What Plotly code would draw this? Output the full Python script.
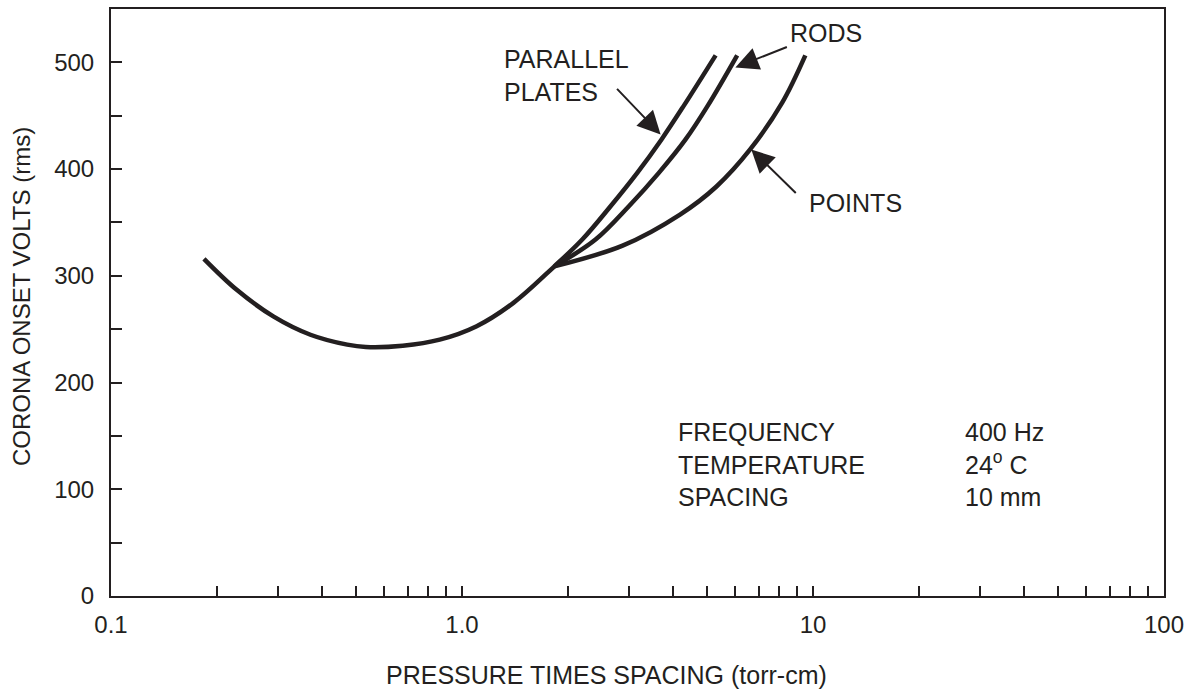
import math
import plotly.graph_objects as go

# ---- data ----
shared_x = [0.184, 0.2277, 0.290, 0.370, 0.471, 0.532, 0.678, 0.864, 1.101, 1.404, 1.833]
shared_y = [315.9, 287.1, 262.0, 244.8, 235.5, 233.3, 234.5, 240.2, 252.8, 274.9, 308.9]

plates_x = [1.833, 2.201, 2.650, 3.157, 3.702, 4.277, 5.28]
plates_y = [308.9, 334.0, 365.2, 396.5, 427.8, 459.0, 506.6]

rods_x = [1.833, 2.401, 2.988, 3.637, 4.335, 5.005, 6.081]
rods_y = [308.9, 334.0, 365.2, 396.5, 427.8, 459.0, 506.6]

points_x = [1.833, 2.868, 4.180, 5.309, 6.62, 8.17, 9.51]
points_y = [308.9, 328.3, 357.4, 383.7, 418.4, 462.3, 506.6]

x_tick_labels = {0.1: "0.1", 1: "1.0", 10: "10", 100: "100"}
y_tick_labels = {0: "0", 100: "100", 200: "200", 300: "300", 400: "400", 500: "500"}

x_title = "PRESSURE TIMES SPACING (torr-cm)"
y_title = "CORONA ONSET VOLTS (rms)"

info_labels = ["FREQUENCY", "TEMPERATURE", "SPACING"]
info_values = ["400 Hz", "24<sup>o</sup> C", "10 mm"]

INK = "#231f20"
FONT = "Liberation Sans, Arial, Helvetica, sans-serif"

fig = go.Figure()
line = dict(color=INK, width=4.5, shape="spline", smoothing=1.0)
fig.add_trace(go.Scatter(x=shared_x + plates_x[1:], y=shared_y + plates_y[1:],
                         mode="lines", line=line, name="Parallel plates"))
fig.add_trace(go.Scatter(x=rods_x, y=rods_y, mode="lines", line=line, name="Rods"))
fig.add_trace(go.Scatter(x=points_x, y=points_y, mode="lines", line=line, name="Points"))

# ticks
x_tickvals, x_ticktext = [], []
for dec in [0.1, 1, 10]:
    for m in range(1, 10):
        v = round(dec * m, 6)
        x_tickvals.append(v)
        x_ticktext.append(x_tick_labels.get(v, ""))
x_tickvals.append(100)
x_ticktext.append(x_tick_labels[100])

y_tickvals = list(range(0, 501, 50))
y_ticktext = [y_tick_labels.get(v, "") for v in y_tickvals]

fig.update_xaxes(type="log", range=[-1, 2], tickmode="array", tickvals=x_tickvals,
                 ticktext=x_ticktext, ticks="inside", ticklen=10, tickwidth=2,
                 tickcolor=INK, showline=True, linewidth=2, linecolor=INK, mirror=True,
                 showgrid=False, zeroline=False, ticklabelstandoff=6, automargin=False,
                 tickfont=dict(size=24, color=INK, family=FONT))
fig.update_yaxes(range=[0, 550], tickmode="array", tickvals=y_tickvals, ticktext=y_ticktext,
                 ticks="inside", ticklen=11, tickwidth=2, tickcolor=INK,
                 showline=True, linewidth=2, linecolor=INK, mirror=True,
                 showgrid=False, zeroline=False, ticklabelstandoff=10, automargin=False,
                 tickfont=dict(size=24, color=INK, family=FONT))

lg = math.log10
ann = []
# axis titles
ann.append(dict(text=x_title, xref="paper", yref="paper", x=0.471, y=-0.1346,
                xanchor="center", yanchor="middle", showarrow=False,
                font=dict(size=25, color=INK, family=FONT)))
ann.append(dict(text=y_title, xref="paper", yref="paper", x=-0.0845, y=0.5094,
                xanchor="center", yanchor="middle", showarrow=False, textangle=-90,
                font=dict(size=24, color=INK, family=FONT)))

tf = dict(size=25, color=INK, family=FONT)
# arrows (head at curve point, tail offset in pixels)
arrow = dict(showarrow=True, arrowhead=2, arrowsize=2.3, arrowwidth=2, arrowcolor=INK,
             axref="pixel", ayref="pixel", text="", xref="x", yref="y", standoff=0)
ann.append(dict(x=lg(6.01), y=495.3, ax=53, ay=-21, **arrow))
ann.append(dict(x=lg(3.68), y=432.5, ax=-45, ay=-47, **arrow))
ann.append(dict(x=lg(6.67), y=418.4, ax=46, ay=45, **arrow))

txt = dict(showarrow=False, xref="x", yref="y", xanchor="left", yanchor="middle",
           align="left", font=tf)
ann.append(dict(x=lg(8.50), y=527.2, text="RODS", **txt))
ann.append(dict(x=lg(1.30), y=487.5, text="PARALLEL<br>PLATES", **txt))
ann.append(dict(x=lg(9.64), y=368.5, text="POINTS", **txt))
ann.append(dict(x=lg(4.08), y=123.5, text="<br>".join(info_labels), **txt))
ann.append(dict(x=lg(26.7), y=123.5, text="<br>".join(info_values), **txt))

fig.update_layout(width=1193, height=690, margin=dict(l=111, r=29, t=9, b=94),
                  paper_bgcolor="white", plot_bgcolor="white", showlegend=False,
                  annotations=ann, font=dict(family=FONT, color=INK))

fig.write_html("out.html")
